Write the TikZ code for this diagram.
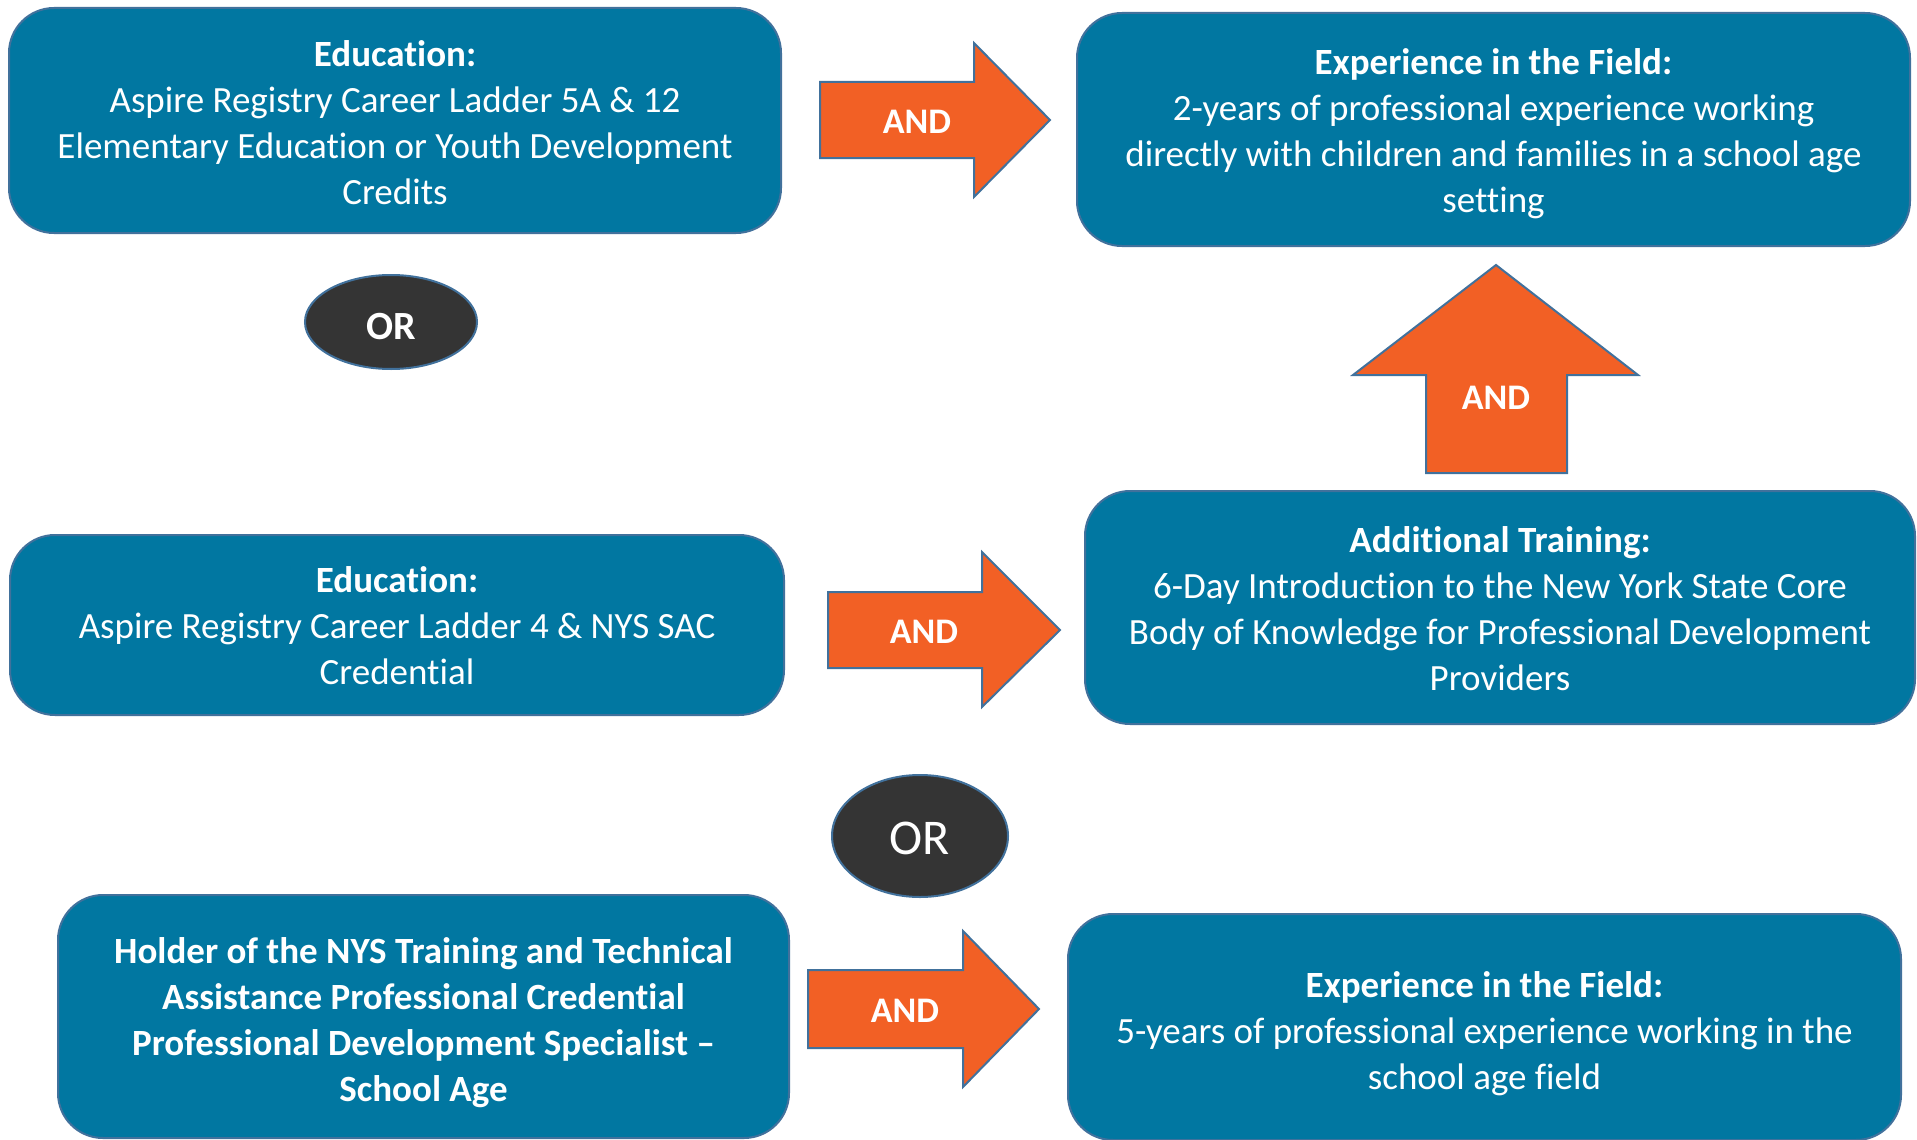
\documentclass[tikz,border=0pt]{standalone}
\usepackage{fontspec}
\setmainfont{Carlito}[Ligatures={TeX,NoCommon}]
\usetikzlibrary{shapes.geometric}
\definecolor{boxblue}{RGB}{1,119,161}
\definecolor{edgeblue}{RGB}{65,113,156}
\definecolor{arroworange}{RGB}{242,96,37}
\definecolor{ordark}{RGB}{52,52,52}
\newcommand{\dropstrut}[1]{\rule{0pt}{#1}}
\begin{document}
\begin{tikzpicture}[x=1pt,y=-1pt,
  infobox/.style={draw=edgeblue, line width=2pt, fill=boxblue, rounded corners=45pt, text=white, align=center, font=\fontsize{37}{46}\selectfont, inner sep=0pt},
  blockarrow/.style={draw=edgeblue, line width=2pt, fill=arroworange},
  andlabel/.style={text=white, font=\fontsize{36}{44}\selectfont\bfseries, inner sep=0pt},
  ornode/.style={ellipse, draw=edgeblue, line width=2pt, fill=ordark, text=white, inner sep=0pt}
]
\useasboundingbox[fill=white] (0,0) rectangle (1917,1140);

% boxes
\node[infobox, minimum width=772pt, minimum height=225pt] (eduA) at (395,120.5)
  {\dropstrut{30pt}\textbf{Education:}\\Aspire Registry Career Ladder 5A \& 12\\Elementary Education or Youth Development\\Credits};
\node[infobox, minimum width=833pt, minimum height=233pt] (expA) at (1493.5,129.5)
  {\dropstrut{35pt}\textbf{Experience in the Field:}\\2-years of professional experience working\\directly with children and families in a school age\\setting};
\node[infobox, minimum width=774pt, minimum height=180pt] (eduB) at (397,625)
  {\dropstrut{28pt}\textbf{Education:}\\Aspire Registry Career Ladder 4 \& NYS SAC\\Credential};
\node[infobox, minimum width=830pt, minimum height=233pt] (train) at (1500,607.5)
  {\dropstrut{28pt}\textbf{Additional Training:}\\6-Day Introduction to the New York State Core\\Body of Knowledge for Professional Development\\Providers};
\node[infobox, minimum width=731pt, minimum height=243pt, font=\fontsize{37}{46}\selectfont\bfseries] (holder) at (423.5,1016.5)
  {\dropstrut{37.5pt}Holder of the NYS Training and Technical\\Assistance Professional Credential\\Professional Development Specialist –\\School Age};
\node[infobox, minimum width=833pt, minimum height=226pt] (expB) at (1484.5,1027)
  {\dropstrut{38.5pt}\textbf{Experience in the Field:}\\5-years of professional experience working in the\\school age field};

% OR ellipses
\node[ornode, minimum width=172pt, minimum height=94pt, font=\fontsize{40}{48}\selectfont\bfseries] (or1) at (391,322) {\dropstrut{36pt}OR};
\node[ornode, minimum width=176pt, minimum height=122pt, font=\fontsize{50}{60}\selectfont] (or2) at (920,836) {\dropstrut{37pt}OR};

% block arrows
\draw[blockarrow] (820,82) -- (974,82) -- (974,43) -- (1050,120) -- (974,197) -- (974,158) -- (820,158) -- cycle;
\node[andlabel] (and1) at (917,122) {AND};

\draw[blockarrow] (1426,473) -- (1426,375) -- (1353,375) -- (1496,265) -- (1638,375) -- (1567,375) -- (1567,473) -- cycle;
\node[andlabel] (and2) at (1496,398) {AND};

\draw[blockarrow] (828,592) -- (982,592) -- (982,552) -- (1060,630) -- (982,707) -- (982,668) -- (828,668) -- cycle;
\node[andlabel] (and3) at (924,632) {AND};

\draw[blockarrow] (808,970) -- (963,970) -- (963,931) -- (1039,1009) -- (963,1087) -- (963,1048) -- (808,1048) -- cycle;
\node[andlabel] (and4) at (905,1011) {AND};
\end{tikzpicture}
\end{document}
